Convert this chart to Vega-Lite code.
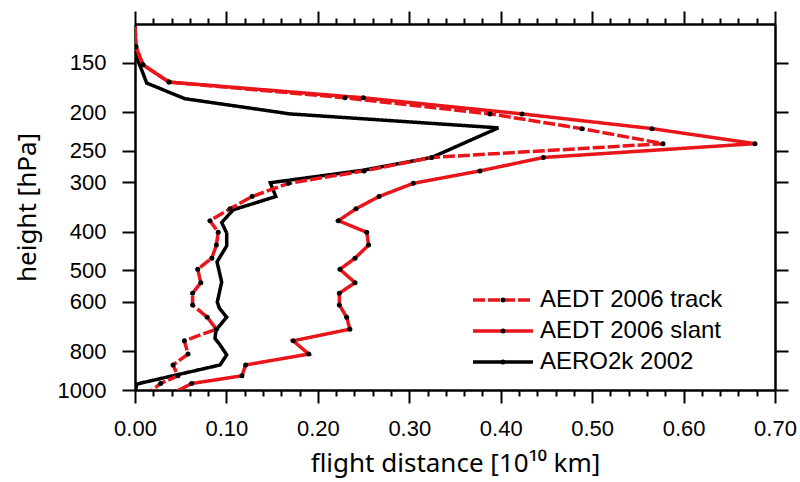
{
  "$schema": "https://vega.github.io/schema/vega-lite/v6.json",
  "width": 640,
  "height": 366,
  "autosize": {"type": "none"},
  "padding": {"left": 135, "top": 24, "right": 25, "bottom": 92},
  "background": "white",
  "config": {
    "font": "Liberation Sans",
    "view": {"stroke": null},
    "axis": {"grid": false, "domainColor": "black", "domainWidth": 2.5, "tickColor": "black", "tickWidth": 2, "labelColor": "black", "titleColor": "black", "labelFont": "Liberation Sans", "titleFont": "Noto Sans", "titleFontWeight": "normal"},
    "legend": {"padding": 0, "labelFont": "Liberation Sans", "labelFontSize": 24, "labelColor": "black", "labelLimit": 0, "rowPadding": 7, "labelOffset": 25}
  },
  "data": {"values": [
    {"s": "AERO2k 2002", "p": 1012, "d": 0.0},
    {"s": "AERO2k 2002", "p": 966, "d": 0.002},
    {"s": "AERO2k 2002", "p": 865, "d": 0.093},
    {"s": "AERO2k 2002", "p": 816, "d": 0.1003},
    {"s": "AERO2k 2002", "p": 770, "d": 0.093},
    {"s": "AERO2k 2002", "p": 742, "d": 0.0875},
    {"s": "AERO2k 2002", "p": 706, "d": 0.0886},
    {"s": "AERO2k 2002", "p": 656, "d": 0.1003},
    {"s": "AERO2k 2002", "p": 622, "d": 0.0922},
    {"s": "AERO2k 2002", "p": 601, "d": 0.09},
    {"s": "AERO2k 2002", "p": 535, "d": 0.0948},
    {"s": "AERO2k 2002", "p": 476, "d": 0.0897},
    {"s": "AERO2k 2002", "p": 434, "d": 0.1003},
    {"s": "AERO2k 2002", "p": 403, "d": 0.1003},
    {"s": "AERO2k 2002", "p": 379, "d": 0.0948},
    {"s": "AERO2k 2002", "p": 352, "d": 0.1075},
    {"s": "AERO2k 2002", "p": 326, "d": 0.154},
    {"s": "AERO2k 2002", "p": 301, "d": 0.148},
    {"s": "AERO2k 2002", "p": 280, "d": 0.2494},
    {"s": "AERO2k 2002", "p": 260, "d": 0.3245},
    {"s": "AERO2k 2002", "p": 219, "d": 0.3974},
    {"s": "AERO2k 2002", "p": 202, "d": 0.1695},
    {"s": "AERO2k 2002", "p": 185, "d": 0.0547},
    {"s": "AERO2k 2002", "p": 169, "d": 0.0128},
    {"s": "AERO2k 2002", "p": 156.5, "d": 0.0073},
    {"s": "AERO2k 2002", "p": 146, "d": 0.0019},
    {"s": "AERO2k 2002", "p": 131, "d": 0.0},
    {"s": "AERO2k 2002", "p": 120, "d": 0.0},

    {"s": "AEDT 2006 slant", "p": 1012, "d": 0.044},
    {"s": "AEDT 2006 slant", "p": 963, "d": 0.062},
    {"s": "AEDT 2006 slant", "p": 921, "d": 0.117},
    {"s": "AEDT 2006 slant", "p": 865, "d": 0.121},
    {"s": "AEDT 2006 slant", "p": 812, "d": 0.19},
    {"s": "AEDT 2006 slant", "p": 752, "d": 0.173},
    {"s": "AEDT 2006 slant", "p": 703, "d": 0.235},
    {"s": "AEDT 2006 slant", "p": 656, "d": 0.2315},
    {"s": "AEDT 2006 slant", "p": 611, "d": 0.2235},
    {"s": "AEDT 2006 slant", "p": 571, "d": 0.2235},
    {"s": "AEDT 2006 slant", "p": 537, "d": 0.2406},
    {"s": "AEDT 2006 slant", "p": 497, "d": 0.2242},
    {"s": "AEDT 2006 slant", "p": 466, "d": 0.2406},
    {"s": "AEDT 2006 slant", "p": 432, "d": 0.2555},
    {"s": "AEDT 2006 slant", "p": 401, "d": 0.2535},
    {"s": "AEDT 2006 slant", "p": 375, "d": 0.2224},
    {"s": "AEDT 2006 slant", "p": 350, "d": 0.2417},
    {"s": "AEDT 2006 slant", "p": 326, "d": 0.2669},
    {"s": "AEDT 2006 slant", "p": 302, "d": 0.3044},
    {"s": "AEDT 2006 slant", "p": 281, "d": 0.3773},
    {"s": "AEDT 2006 slant", "p": 260, "d": 0.4467},
    {"s": "AEDT 2006 slant", "p": 240, "d": 0.6781},
    {"s": "AEDT 2006 slant", "p": 220, "d": 0.5655},
    {"s": "AEDT 2006 slant", "p": 202, "d": 0.4233},
    {"s": "AEDT 2006 slant", "p": 184, "d": 0.2497},
    {"s": "AEDT 2006 slant", "p": 168, "d": 0.0372},
    {"s": "AEDT 2006 slant", "p": 152, "d": 0.0087},
    {"s": "AEDT 2006 slant", "p": 137, "d": 0.001},
    {"s": "AEDT 2006 slant", "p": 120, "d": 0.0},

    {"s": "AEDT 2006 track", "p": 1012, "d": 0.0164},
    {"s": "AEDT 2006 track", "p": 963, "d": 0.028},
    {"s": "AEDT 2006 track", "p": 921, "d": 0.047},
    {"s": "AEDT 2006 track", "p": 865, "d": 0.0416},
    {"s": "AEDT 2006 track", "p": 812, "d": 0.058},
    {"s": "AEDT 2006 track", "p": 752, "d": 0.054},
    {"s": "AEDT 2006 track", "p": 703, "d": 0.089},
    {"s": "AEDT 2006 track", "p": 656, "d": 0.079},
    {"s": "AEDT 2006 track", "p": 611, "d": 0.063},
    {"s": "AEDT 2006 track", "p": 571, "d": 0.063},
    {"s": "AEDT 2006 track", "p": 537, "d": 0.072},
    {"s": "AEDT 2006 track", "p": 497, "d": 0.0686},
    {"s": "AEDT 2006 track", "p": 466, "d": 0.084},
    {"s": "AEDT 2006 track", "p": 432, "d": 0.089},
    {"s": "AEDT 2006 track", "p": 401, "d": 0.091},
    {"s": "AEDT 2006 track", "p": 375, "d": 0.082},
    {"s": "AEDT 2006 track", "p": 350, "d": 0.104},
    {"s": "AEDT 2006 track", "p": 326, "d": 0.128},
    {"s": "AEDT 2006 track", "p": 302, "d": 0.168},
    {"s": "AEDT 2006 track", "p": 281, "d": 0.2505},
    {"s": "AEDT 2006 track", "p": 260, "d": 0.3245},
    {"s": "AEDT 2006 track", "p": 240, "d": 0.5775},
    {"s": "AEDT 2006 track", "p": 220, "d": 0.4889},
    {"s": "AEDT 2006 track", "p": 202, "d": 0.3883},
    {"s": "AEDT 2006 track", "p": 184, "d": 0.2297},
    {"s": "AEDT 2006 track", "p": 168, "d": 0.0372},
    {"s": "AEDT 2006 track", "p": 152, "d": 0.0087},
    {"s": "AEDT 2006 track", "p": 137, "d": 0.001},
    {"s": "AEDT 2006 track", "p": 120, "d": 0.0}
  ]},
  "layer": [
    {
      "mark": {"type": "line", "strokeWidth": 3.5, "clip": true},
      "encoding": {
        "x": {"field": "d", "type": "quantitative",
          "scale": {"domain": [0, 0.7], "nice": false, "zero": false},
          "axis": {"orient": "bottom",
            "values": [0,0.02,0.04,0.06,0.08,0.1,0.12,0.14,0.16,0.18,0.2,0.22,0.24,0.26,0.28,0.3,0.32,0.34,0.36,0.38,0.4,0.42,0.44,0.46,0.48,0.5,0.52,0.54,0.56,0.58,0.6,0.62,0.64,0.66,0.68,0.7],
            "tickSize": {"condition": {"test": "abs(datum.value*10 - round(datum.value*10)) < 0.001", "value": 13}, "value": 6},
            "labelExpr": "abs(datum.value*10 - round(datum.value*10)) < 0.001 ? format(datum.value, '.2f') : ''",
            "labelFontSize": 22, "labelPadding": 15, "labelOverlap": false, "labelFlush": false,
            "title": "flight distance [10¹⁰ km]", "titleFontSize": 26,
            "titleX": 320, "titleY": 73, "titleBaseline": "middle", "titleAlign": "center", "titleAnchor": null}},
        "y": {"field": "p", "type": "quantitative",
          "scale": {"type": "log", "domain": [120, 1000], "reverse": true, "nice": false},
          "axis": {"orient": "left", "values": [150,200,250,300,400,500,600,800,1000], "format": "d",
            "tickSize": 13, "labelFontSize": 22, "labelPadding": 16, "labelOverlap": false, "labelFlush": false,
            "title": "height [hPa]", "titleFontSize": 26, "titleAngle": -90,
            "titleX": -108, "titleY": 183, "titleBaseline": "middle", "titleAlign": "center", "titleAnchor": null}},
        "color": {"field": "s", "type": "nominal",
          "scale": {"domain": ["AEDT 2006 track", "AEDT 2006 slant", "AERO2k 2002"], "range": ["#e8151b", "#e8151b", "#000000"]},
          "legend": {"title": null, "orient": "none", "legendX": 356, "legendY": 264, "symbolType": "M-3,0H3", "symbolSize": 400, "symbolStrokeWidth": 3.5}},
        "strokeDash": {"field": "s", "type": "nominal",
          "scale": {"domain": ["AEDT 2006 track", "AEDT 2006 slant", "AERO2k 2002"], "range": [[12, 3], [1, 0], [1, 0]]},
          "legend": {"title": null, "orient": "none", "legendX": 356, "legendY": 264, "symbolType": "M-3,0H3", "symbolSize": 400, "symbolStrokeWidth": 3.5}},
        "order": {"field": "p", "type": "quantitative"}
      }
    },
    {
      "transform": [{"filter": "datum.s != 'AERO2k 2002'"}],
      "mark": {"type": "point", "filled": true, "size": 25, "color": "black", "opacity": 1, "clip": true},
      "encoding": {
        "x": {"field": "d", "type": "quantitative",
          "axis": {"orient": "top",
            "values": [0,0.02,0.04,0.06,0.08,0.1,0.12,0.14,0.16,0.18,0.2,0.22,0.24,0.26,0.28,0.3,0.32,0.34,0.36,0.38,0.4,0.42,0.44,0.46,0.48,0.5,0.52,0.54,0.56,0.58,0.6,0.62,0.64,0.66,0.68,0.7],
            "tickSize": {"condition": {"test": "abs(datum.value*10 - round(datum.value*10)) < 0.001", "value": 13}, "value": 6},
            "labels": false, "title": null}},
        "y": {"field": "p", "type": "quantitative",
          "axis": {"orient": "right", "values": [150,200,250,300,400,500,600,800,1000], "tickSize": 13, "labels": false, "title": null}},
        "shape": {"field": "s", "type": "nominal",
          "scale": {"domain": ["AERO2k 2002", "AEDT 2006 track", "AEDT 2006 slant"], "range": ["circle", "circle", "circle"]},
          "legend": {"title": null, "orient": "none", "legendX": 356, "legendY": 264, "values": ["AEDT 2006 track", "AEDT 2006 slant", "AERO2k 2002"], "symbolSize": 25, "symbolFillColor": "black", "symbolStrokeColor": "black", "symbolStrokeWidth": 0, "labelOpacity": 0}}
      }
    }
  ],
  "resolve": {"axis": {"x": "independent", "y": "independent"}}
}
